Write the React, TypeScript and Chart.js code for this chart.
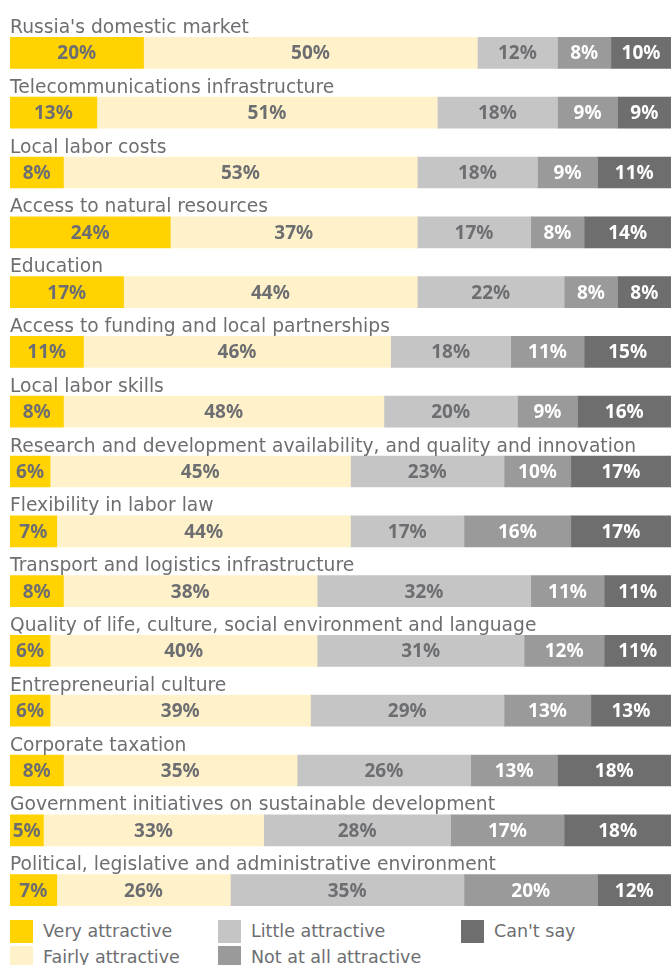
import React, { useEffect, useRef } from "react";
import { Chart, registerables } from "chart.js";

Chart.register(...registerables);

const categories = [
  "Russia's domestic market",
  "Telecommunications infrastructure",
  "Local labor costs",
  "Access to natural resources",
  "Education",
  "Access to funding and local partnerships",
  "Local labor skills",
  "Research and development availability, and quality and innovation",
  "Flexibility in labor law",
  "Transport and logistics infrastructure",
  "Quality of life, culture, social environment and language",
  "Entrepreneurial culture",
  "Corporate taxation",
  "Government initiatives on sustainable development",
  "Political, legislative and administrative environment",
];

const veryAttractive = [20, 13, 8, 24, 17, 11, 8, 6, 7, 8, 6, 6, 8, 5, 7];
const fairlyAttractive = [50, 51, 53, 37, 44, 46, 48, 45, 44, 38, 40, 39, 35, 33, 26];
const littleAttractive = [12, 18, 18, 17, 22, 18, 20, 23, 17, 32, 31, 29, 26, 28, 35];
const notAtAllAttractive = [8, 9, 9, 8, 8, 11, 9, 10, 16, 11, 12, 13, 13, 17, 20];
const cantSay = [10, 9, 11, 14, 8, 15, 16, 17, 17, 11, 11, 13, 18, 18, 12];

const seriesNames = [
  "Very attractive",
  "Fairly attractive",
  "Little attractive",
  "Not at all attractive",
  "Can't say",
];
const seriesValues = [veryAttractive, fairlyAttractive, littleAttractive, notAtAllAttractive, cantSay];
const seriesColors = ["#FFD200", "#FFF2CA", "#C4C5C4", "#999A99", "#6D6E6D"];
const labelColors = ["#6D6E71", "#6D6E71", "#6D6E71", "#FFFFFF", "#FFFFFF"];

// legend layout order (column-wise as in reference)
const legendOrder = [0, 2, 4, 1, 3];

const TEXT_FONT = "'DejaVu Sans', sans-serif";
const VALUE_FONT = "'Noto Sans', sans-serif";

const labelsPlugin = {
  id: "customLabels",
  afterDatasetsDraw(chart: any) {
    const ctx = chart.ctx;
    const area = chart.chartArea;
    ctx.save();
    // category labels above bars
    const meta0 = chart.getDatasetMeta(0);
    ctx.font = `18.7px ${TEXT_FONT}`;
    ctx.fillStyle = "#6D6E71";
    ctx.textAlign = "left";
    ctx.textBaseline = "alphabetic";
    meta0.data.forEach((bar: any, i: number) => {
      const top = bar.y - bar.height / 2;
      ctx.fillText(categories[i], area.left, top - 4.5);
    });
    // value labels
    ctx.font = `bold 19px ${VALUE_FONT}`;
    ctx.textAlign = "center";
    ctx.textBaseline = "middle";
    chart.data.datasets.forEach((ds: any, di: number) => {
      const meta = chart.getDatasetMeta(di);
      meta.data.forEach((bar: any, i: number) => {
        const x1 = Math.min(bar.base, bar.x);
        const x2 = Math.min(Math.max(bar.base, bar.x), area.right);
        if (x2 <= x1) return;
        ctx.fillStyle = labelColors[di];
        ctx.fillText(`${ds.data[i]}%`, (x1 + x2) / 2, bar.y + 1);
      });
    });
    ctx.restore();
  },
};

export default function App() {
  const canvasRef = useRef<HTMLCanvasElement | null>(null);

  useEffect(() => {
    if (!canvasRef.current) return;
    const chart = new Chart(canvasRef.current, {
      type: "bar",
      data: {
        labels: categories,
        datasets: seriesNames.map((name, i) => ({
          label: name,
          data: seriesValues[i],
          backgroundColor: seriesColors[i],
          borderWidth: 0,
          barThickness: 31,
        })),
      },
      options: {
        indexAxis: "y",
        responsive: false,
        animation: false,
        layout: { padding: { left: 10, right: 0, top: 23, bottom: 0 } },
        scales: {
          x: { stacked: true, min: 0, max: 99, display: false },
          y: { stacked: true, display: false },
        },
        plugins: {
          legend: { display: false },
          tooltip: { enabled: false },
        },
      },
      plugins: [labelsPlugin],
    });
    return () => chart.destroy();
  }, []);

  return (
    <div
      style={{
        position: "absolute",
        left: 0,
        top: 0,
        width: 671,
        height: 965,
        overflow: "hidden",
        background: "#fff",
      }}
    >
      <canvas ref={canvasRef} width={671} height={920} style={{ display: "block" }} />
      <div
        style={{
          position: "absolute",
          left: 10,
          top: 920,
          display: "grid",
          gridTemplateColumns: "208px 243px 200px",
          gridAutoRows: "26px",
          fontFamily: TEXT_FONT,
          fontSize: 17.5,
          color: "#6D6E71",
        }}
      >
        {legendOrder.map((si) => (
          <div key={si} style={{ display: "flex", alignItems: "flex-start", height: 26 }}>
            <span
              style={{
                display: "inline-block",
                width: 23,
                height: 23,
                background: seriesColors[si],
                marginRight: 10,
                flex: "none",
              }}
            />
            <span style={{ lineHeight: "23px", whiteSpace: "nowrap" }}>{seriesNames[si]}</span>
          </div>
        ))}
      </div>
    </div>
  );
}
